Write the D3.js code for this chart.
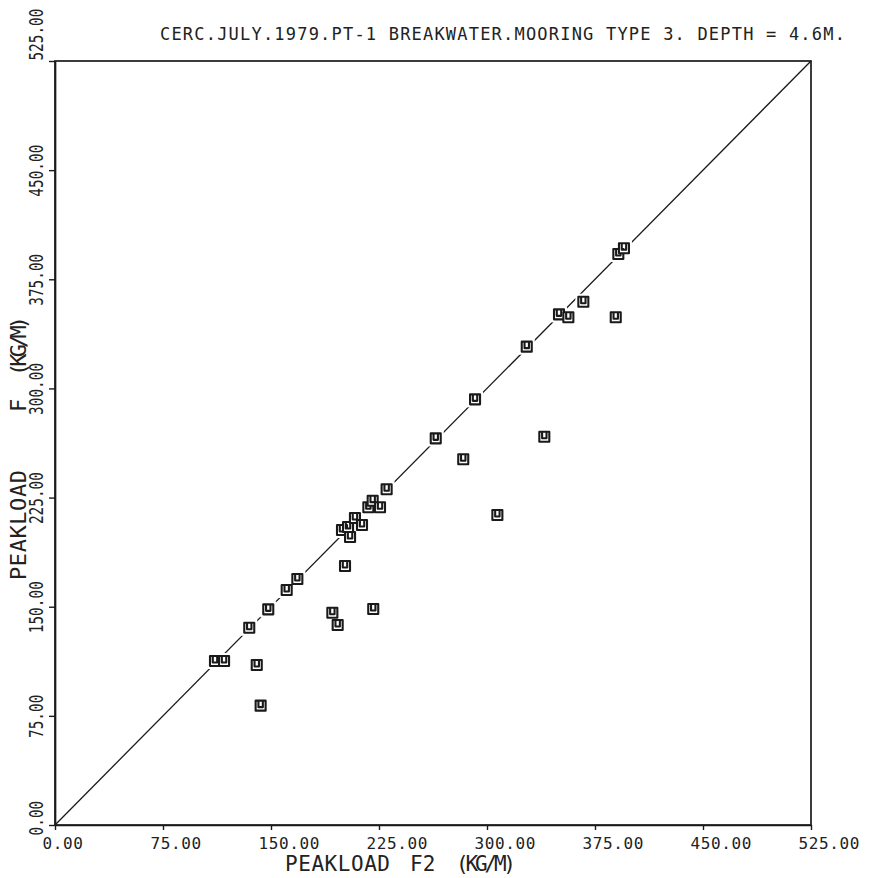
<!DOCTYPE html>
<html>
<head>
<meta charset="utf-8">
<script src="https://cdn.jsdelivr.net/npm/d3@7"></script>
<style>
  html, body { margin: 0; padding: 0; background: #fff; }
  svg { display: block; }
  text { font-family: "DejaVu Sans Mono", "Liberation Mono", monospace; fill: #222; }
</style>
</head>
<body>
<svg id="chart" width="880" height="878"></svg>
<script>
// ---- data ----
const titleText = "CERC.JULY.1979.PT-1 BREAKWATER.MOORING TYPE 3. DEPTH = 4.6M.";
const xTitleParts = ["PEAKLOAD", "F2", "(KG/M)"];
const yTitleParts = ["PEAKLOAD", "F", "(KG/M)"];
const tickValues = [0, 75, 150, 225, 300, 375, 450, 525];
const peakloadF2 = [111.1, 117.4, 134.9, 140.1, 142.8, 148.1, 160.9, 168.3, 192.6, 196.3, 201.4, 221.0,
  199.3, 204.9, 203.5, 208.3, 213.2, 217.6, 220.6, 225.7, 230.3, 264.4, 283.5, 291.7, 307.2,
  327.6, 339.8, 350.0, 356.5, 366.9, 389.4, 391.2, 395.1];
const peakloadF = [112.7, 112.7, 135.5, 109.9, 82.0, 148.2, 161.5, 169.0, 145.9, 137.4, 178.0, 148.4,
  202.7, 197.9, 204.8, 211.0, 206.2, 218.3, 222.8, 218.3, 230.7, 265.7, 251.3, 292.5, 213.0,
  328.7, 266.8, 350.9, 348.9, 359.6, 348.9, 392.4, 396.3];

// ---- layout ----
const svg = d3.select("#chart");
const mLeft = 55, mRight = 811, mTop = 61, mBottom = 825;
const x = d3.scaleLinear().domain([0, 525]).range([mLeft, mRight]);
const y = d3.scaleLinear().domain([0, 525]).range([mBottom, mTop]);
const ink = "#1a1a1a";

// frame
svg.append("rect")
  .attr("x", mLeft).attr("y", mTop)
  .attr("width", mRight - mLeft).attr("height", mBottom - mTop)
  .attr("fill", "none").attr("stroke", ink).attr("stroke-width", 1.7);

// x axis
const fmt = d3.format(".2f");
const gx = svg.append("g").attr("transform", `translate(0,${mBottom})`)
  .call(d3.axisBottom(x).tickValues(tickValues).tickSize(5).tickSizeOuter(0).tickFormat(fmt));
gx.select(".domain").attr("stroke", ink).attr("stroke-width", 1.7);
gx.selectAll(".tick line").attr("stroke", ink).attr("stroke-width", 1.4);
gx.selectAll(".tick text")
  .attr("text-anchor", "start").attr("x", -13).attr("y", 24).attr("dy", null)
  .style("font-family", "'DejaVu Sans Mono', monospace").style("font-size", "16px")
  .style("letter-spacing", "0.6px").attr("fill", ink);

// y axis
const gy = svg.append("g").attr("transform", `translate(${mLeft},0)`)
  .call(d3.axisLeft(y).tickValues(tickValues).tickSize(6).tickSizeOuter(0).tickFormat(fmt));
gy.select(".domain").attr("stroke", ink).attr("stroke-width", 1.7);
gy.selectAll(".tick line").attr("stroke", ink).attr("stroke-width", 1.4);
gy.selectAll(".tick text")
  .attr("dy", null)
  .attr("transform", "translate(-12,0) rotate(-90) scale(0.9,1.2)")
  .attr("text-anchor", d => (d === 0 || d === 525) ? "start" : "middle")
  .attr("x", d => d === 0 ? -11 : (d === 525 ? 1 : 0))
  .attr("y", 0)
  .style("font-family", "'DejaVu Sans Mono', monospace").style("font-size", "16px")
  .style("letter-spacing", "0px").attr("fill", ink);

// diagonal 1:1 line
svg.append("line")
  .attr("x1", x(0)).attr("y1", y(0)).attr("x2", x(525)).attr("y2", y(525))
  .attr("stroke", ink).attr("stroke-width", 1.3);

const pts = peakloadF2.map((v, i) => ({ fx: v, fy: peakloadF[i] }));

// white halo to break the line around markers
svg.append("g").selectAll("rect").data(pts).join("rect")
  .attr("x", d => x(d.fx) - 8).attr("y", d => y(d.fy) - 8)
  .attr("width", 16).attr("height", 16).attr("fill", "#fff");

// markers: square with a "U" inside
const marker = "M-5,-5H5V5H-5Z M-2.2,-5V1.5H2.2V-5";
svg.append("g").selectAll("path").data(pts).join("path")
  .attr("transform", d => `translate(${x(d.fx)},${y(d.fy)})`)
  .attr("d", marker)
  .attr("fill", "#fff").attr("stroke", ink).attr("stroke-width", 2.1)
  .attr("stroke-linejoin", "round");

// title
svg.append("text")
  .attr("x", 160).attr("y", 40)
  .style("font-size", "17px").style("letter-spacing", "1.2px")
  .attr("fill", ink)
  .text(titleText);

// x axis title
const xTitleX = [285, 410, 456];
const xTitleLen = [105, null, 60];
svg.append("g").selectAll("text").data(xTitleParts).join("text")
  .attr("x", (d, i) => xTitleX[i]).attr("y", 871)
  .attr("textLength", (d, i) => xTitleLen[i]).attr("lengthAdjust", "spacing")
  .style("font-size", "21px")
  .attr("fill", ink)
  .text(d => d);

// y axis title (rotated, reads bottom to top)
const yTitleY = [580, 412, 376];
const yTitleLen = [110, null, 60];
svg.append("g").selectAll("text").data(yTitleParts).join("text")
  .attr("transform", (d, i) => `translate(26,${yTitleY[i]}) rotate(-90)`)
  .attr("textLength", (d, i) => yTitleLen[i]).attr("lengthAdjust", "spacing")
  .style("font-size", "22px")
  .attr("fill", ink)
  .text(d => d);
</script>
</body>
</html>
